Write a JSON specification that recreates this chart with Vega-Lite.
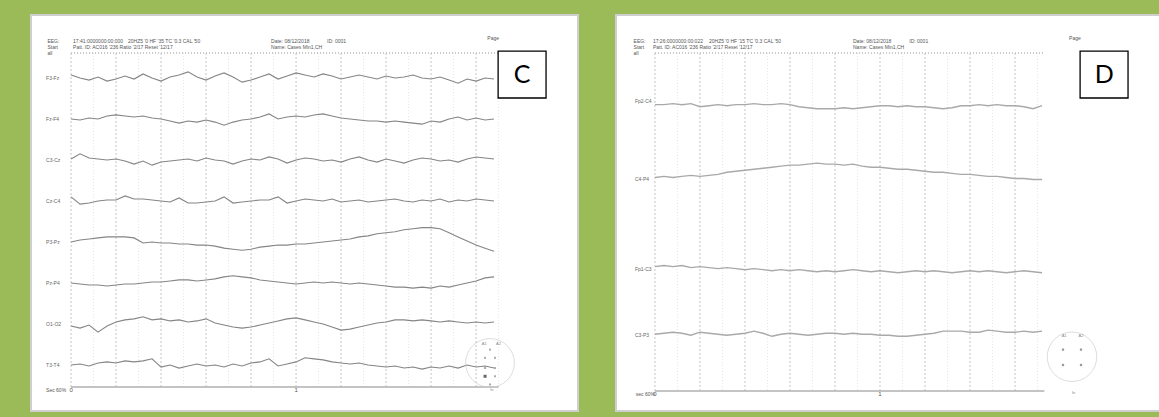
{
"$schema": "https://vega.github.io/schema/vega-lite/v6.json",
"background": "#9bbb59",
"padding": {"left": 30, "top": 14, "right": 2, "bottom": 7},
"spacing": 36,
"config": {"view": {"fill": "white", "stroke": "#cfcfcf", "strokeWidth": 2}, "axis": {"disable": true}, "text": {"font": "Liberation Sans"}},
"datasets": {
"one": [{}],
"C": [
{"c":"F3-Fz","t":0,"v":-37},{"c":"F3-Fz","t":0.04,"v":-40},{"c":"F3-Fz","t":0.08,"v":-42},{"c":"F3-Fz","t":0.12,"v":-39},{"c":"F3-Fz","t":0.16,"v":-43},{"c":"F3-Fz","t":0.2,"v":-41},{"c":"F3-Fz","t":0.24,"v":-38},{"c":"F3-Fz","t":0.28,"v":-41},{"c":"F3-Fz","t":0.32,"v":-36},{"c":"F3-Fz","t":0.36,"v":-40},{"c":"F3-Fz","t":0.4,"v":-43},{"c":"F3-Fz","t":0.44,"v":-39},{"c":"F3-Fz","t":0.48,"v":-37},{"c":"F3-Fz","t":0.52,"v":-34},{"c":"F3-Fz","t":0.56,"v":-39},{"c":"F3-Fz","t":0.6,"v":-42},{"c":"F3-Fz","t":0.64,"v":-38},{"c":"F3-Fz","t":0.68,"v":-35},{"c":"F3-Fz","t":0.72,"v":-39},{"c":"F3-Fz","t":0.76,"v":-44},{"c":"F3-Fz","t":0.8,"v":-42},{"c":"F3-Fz","t":0.84,"v":-39},{"c":"F3-Fz","t":0.88,"v":-36},{"c":"F3-Fz","t":0.92,"v":-41},{"c":"F3-Fz","t":0.96,"v":-38},{"c":"F3-Fz","t":1,"v":-35},{"c":"F3-Fz","t":1.04,"v":-37},{"c":"F3-Fz","t":1.08,"v":-39},{"c":"F3-Fz","t":1.12,"v":-36},{"c":"F3-Fz","t":1.16,"v":-38},{"c":"F3-Fz","t":1.2,"v":-41},{"c":"F3-Fz","t":1.24,"v":-39},{"c":"F3-Fz","t":1.28,"v":-37},{"c":"F3-Fz","t":1.32,"v":-39},{"c":"F3-Fz","t":1.36,"v":-41},{"c":"F3-Fz","t":1.4,"v":-38},{"c":"F3-Fz","t":1.44,"v":-40},{"c":"F3-Fz","t":1.48,"v":-39},{"c":"F3-Fz","t":1.52,"v":-37},{"c":"F3-Fz","t":1.56,"v":-40},{"c":"F3-Fz","t":1.6,"v":-41},{"c":"F3-Fz","t":1.64,"v":-39},{"c":"F3-Fz","t":1.68,"v":-42},{"c":"F3-Fz","t":1.72,"v":-45},{"c":"F3-Fz","t":1.76,"v":-41},{"c":"F3-Fz","t":1.8,"v":-43},{"c":"F3-Fz","t":1.84,"v":-40},{"c":"F3-Fz","t":1.88,"v":-41},
{"c":"Fz-F4","t":0,"v":-80},{"c":"Fz-F4","t":0.04,"v":-81},{"c":"Fz-F4","t":0.08,"v":-79},{"c":"Fz-F4","t":0.12,"v":-80},{"c":"Fz-F4","t":0.16,"v":-77},{"c":"Fz-F4","t":0.2,"v":-76},{"c":"Fz-F4","t":0.24,"v":-77},{"c":"Fz-F4","t":0.28,"v":-78},{"c":"Fz-F4","t":0.32,"v":-77},{"c":"Fz-F4","t":0.36,"v":-79},{"c":"Fz-F4","t":0.4,"v":-80},{"c":"Fz-F4","t":0.44,"v":-82},{"c":"Fz-F4","t":0.48,"v":-84},{"c":"Fz-F4","t":0.52,"v":-82},{"c":"Fz-F4","t":0.56,"v":-83},{"c":"Fz-F4","t":0.6,"v":-81},{"c":"Fz-F4","t":0.64,"v":-83},{"c":"Fz-F4","t":0.68,"v":-86},{"c":"Fz-F4","t":0.72,"v":-83},{"c":"Fz-F4","t":0.76,"v":-81},{"c":"Fz-F4","t":0.8,"v":-80},{"c":"Fz-F4","t":0.84,"v":-78},{"c":"Fz-F4","t":0.88,"v":-75},{"c":"Fz-F4","t":0.92,"v":-80},{"c":"Fz-F4","t":0.96,"v":-78},{"c":"Fz-F4","t":1,"v":-77},{"c":"Fz-F4","t":1.04,"v":-78},{"c":"Fz-F4","t":1.08,"v":-76},{"c":"Fz-F4","t":1.12,"v":-75},{"c":"Fz-F4","t":1.16,"v":-77},{"c":"Fz-F4","t":1.2,"v":-79},{"c":"Fz-F4","t":1.24,"v":-80},{"c":"Fz-F4","t":1.28,"v":-81},{"c":"Fz-F4","t":1.32,"v":-82},{"c":"Fz-F4","t":1.36,"v":-82},{"c":"Fz-F4","t":1.4,"v":-83},{"c":"Fz-F4","t":1.44,"v":-82},{"c":"Fz-F4","t":1.48,"v":-83},{"c":"Fz-F4","t":1.52,"v":-84},{"c":"Fz-F4","t":1.56,"v":-85},{"c":"Fz-F4","t":1.6,"v":-82},{"c":"Fz-F4","t":1.64,"v":-83},{"c":"Fz-F4","t":1.68,"v":-80},{"c":"Fz-F4","t":1.72,"v":-78},{"c":"Fz-F4","t":1.76,"v":-81},{"c":"Fz-F4","t":1.8,"v":-79},{"c":"Fz-F4","t":1.84,"v":-81},{"c":"Fz-F4","t":1.88,"v":-80},
{"c":"C3-Cz","t":0,"v":-119},{"c":"C3-Cz","t":0.04,"v":-114},{"c":"C3-Cz","t":0.08,"v":-118},{"c":"C3-Cz","t":0.12,"v":-119},{"c":"C3-Cz","t":0.16,"v":-120},{"c":"C3-Cz","t":0.2,"v":-119},{"c":"C3-Cz","t":0.24,"v":-121},{"c":"C3-Cz","t":0.28,"v":-124},{"c":"C3-Cz","t":0.32,"v":-121},{"c":"C3-Cz","t":0.36,"v":-125},{"c":"C3-Cz","t":0.4,"v":-122},{"c":"C3-Cz","t":0.44,"v":-121},{"c":"C3-Cz","t":0.48,"v":-120},{"c":"C3-Cz","t":0.52,"v":-119},{"c":"C3-Cz","t":0.56,"v":-121},{"c":"C3-Cz","t":0.6,"v":-118},{"c":"C3-Cz","t":0.64,"v":-120},{"c":"C3-Cz","t":0.68,"v":-121},{"c":"C3-Cz","t":0.72,"v":-124},{"c":"C3-Cz","t":0.76,"v":-121},{"c":"C3-Cz","t":0.8,"v":-119},{"c":"C3-Cz","t":0.84,"v":-120},{"c":"C3-Cz","t":0.88,"v":-117},{"c":"C3-Cz","t":0.92,"v":-119},{"c":"C3-Cz","t":0.96,"v":-123},{"c":"C3-Cz","t":1,"v":-120},{"c":"C3-Cz","t":1.04,"v":-118},{"c":"C3-Cz","t":1.08,"v":-119},{"c":"C3-Cz","t":1.12,"v":-121},{"c":"C3-Cz","t":1.16,"v":-120},{"c":"C3-Cz","t":1.2,"v":-122},{"c":"C3-Cz","t":1.24,"v":-119},{"c":"C3-Cz","t":1.28,"v":-117},{"c":"C3-Cz","t":1.32,"v":-120},{"c":"C3-Cz","t":1.36,"v":-122},{"c":"C3-Cz","t":1.4,"v":-119},{"c":"C3-Cz","t":1.44,"v":-121},{"c":"C3-Cz","t":1.48,"v":-123},{"c":"C3-Cz","t":1.52,"v":-120},{"c":"C3-Cz","t":1.56,"v":-118},{"c":"C3-Cz","t":1.6,"v":-119},{"c":"C3-Cz","t":1.64,"v":-121},{"c":"C3-Cz","t":1.68,"v":-120},{"c":"C3-Cz","t":1.72,"v":-122},{"c":"C3-Cz","t":1.76,"v":-119},{"c":"C3-Cz","t":1.8,"v":-117},{"c":"C3-Cz","t":1.84,"v":-118},{"c":"C3-Cz","t":1.88,"v":-119},
{"c":"Cz-C4","t":0,"v":-156},{"c":"Cz-C4","t":0.04,"v":-163},{"c":"Cz-C4","t":0.08,"v":-162},{"c":"Cz-C4","t":0.12,"v":-160},{"c":"Cz-C4","t":0.16,"v":-159},{"c":"Cz-C4","t":0.2,"v":-159},{"c":"Cz-C4","t":0.24,"v":-155},{"c":"Cz-C4","t":0.28,"v":-158},{"c":"Cz-C4","t":0.32,"v":-158},{"c":"Cz-C4","t":0.36,"v":-159},{"c":"Cz-C4","t":0.4,"v":-160},{"c":"Cz-C4","t":0.44,"v":-161},{"c":"Cz-C4","t":0.48,"v":-157},{"c":"Cz-C4","t":0.52,"v":-162},{"c":"Cz-C4","t":0.56,"v":-162},{"c":"Cz-C4","t":0.6,"v":-161},{"c":"Cz-C4","t":0.64,"v":-160},{"c":"Cz-C4","t":0.68,"v":-156},{"c":"Cz-C4","t":0.72,"v":-162},{"c":"Cz-C4","t":0.76,"v":-161},{"c":"Cz-C4","t":0.8,"v":-160},{"c":"Cz-C4","t":0.84,"v":-159},{"c":"Cz-C4","t":0.88,"v":-159},{"c":"Cz-C4","t":0.92,"v":-156},{"c":"Cz-C4","t":0.96,"v":-162},{"c":"Cz-C4","t":1,"v":-160},{"c":"Cz-C4","t":1.04,"v":-158},{"c":"Cz-C4","t":1.08,"v":-159},{"c":"Cz-C4","t":1.12,"v":-160},{"c":"Cz-C4","t":1.16,"v":-158},{"c":"Cz-C4","t":1.2,"v":-161},{"c":"Cz-C4","t":1.24,"v":-160},{"c":"Cz-C4","t":1.28,"v":-159},{"c":"Cz-C4","t":1.32,"v":-161},{"c":"Cz-C4","t":1.36,"v":-160},{"c":"Cz-C4","t":1.4,"v":-159},{"c":"Cz-C4","t":1.44,"v":-158},{"c":"Cz-C4","t":1.48,"v":-160},{"c":"Cz-C4","t":1.52,"v":-161},{"c":"Cz-C4","t":1.56,"v":-159},{"c":"Cz-C4","t":1.6,"v":-160},{"c":"Cz-C4","t":1.64,"v":-158},{"c":"Cz-C4","t":1.68,"v":-161},{"c":"Cz-C4","t":1.72,"v":-159},{"c":"Cz-C4","t":1.76,"v":-160},{"c":"Cz-C4","t":1.8,"v":-158},{"c":"Cz-C4","t":1.84,"v":-159},{"c":"Cz-C4","t":1.88,"v":-160},
{"c":"P3-Pz","t":0,"v":-200},{"c":"P3-Pz","t":0.04,"v":-198},{"c":"P3-Pz","t":0.08,"v":-197},{"c":"P3-Pz","t":0.12,"v":-196},{"c":"P3-Pz","t":0.16,"v":-195},{"c":"P3-Pz","t":0.2,"v":-195},{"c":"P3-Pz","t":0.24,"v":-195},{"c":"P3-Pz","t":0.28,"v":-196},{"c":"P3-Pz","t":0.32,"v":-201},{"c":"P3-Pz","t":0.36,"v":-200},{"c":"P3-Pz","t":0.4,"v":-201},{"c":"P3-Pz","t":0.44,"v":-201},{"c":"P3-Pz","t":0.48,"v":-202},{"c":"P3-Pz","t":0.52,"v":-202},{"c":"P3-Pz","t":0.56,"v":-203},{"c":"P3-Pz","t":0.6,"v":-203},{"c":"P3-Pz","t":0.64,"v":-204},{"c":"P3-Pz","t":0.68,"v":-206},{"c":"P3-Pz","t":0.72,"v":-207},{"c":"P3-Pz","t":0.76,"v":-208},{"c":"P3-Pz","t":0.8,"v":-207},{"c":"P3-Pz","t":0.84,"v":-205},{"c":"P3-Pz","t":0.88,"v":-204},{"c":"P3-Pz","t":0.92,"v":-203},{"c":"P3-Pz","t":0.96,"v":-203},{"c":"P3-Pz","t":1,"v":-202},{"c":"P3-Pz","t":1.04,"v":-202},{"c":"P3-Pz","t":1.08,"v":-201},{"c":"P3-Pz","t":1.12,"v":-200},{"c":"P3-Pz","t":1.16,"v":-199},{"c":"P3-Pz","t":1.2,"v":-198},{"c":"P3-Pz","t":1.24,"v":-197},{"c":"P3-Pz","t":1.28,"v":-195},{"c":"P3-Pz","t":1.32,"v":-194},{"c":"P3-Pz","t":1.36,"v":-192},{"c":"P3-Pz","t":1.4,"v":-191},{"c":"P3-Pz","t":1.44,"v":-190},{"c":"P3-Pz","t":1.48,"v":-188},{"c":"P3-Pz","t":1.52,"v":-187},{"c":"P3-Pz","t":1.56,"v":-186},{"c":"P3-Pz","t":1.6,"v":-186},{"c":"P3-Pz","t":1.64,"v":-187},{"c":"P3-Pz","t":1.68,"v":-191},{"c":"P3-Pz","t":1.72,"v":-195},{"c":"P3-Pz","t":1.76,"v":-199},{"c":"P3-Pz","t":1.8,"v":-203},{"c":"P3-Pz","t":1.84,"v":-206},{"c":"P3-Pz","t":1.88,"v":-209},
{"c":"Pz-P4","t":0,"v":-240},{"c":"Pz-P4","t":0.04,"v":-241},{"c":"Pz-P4","t":0.08,"v":-242},{"c":"Pz-P4","t":0.12,"v":-242},{"c":"Pz-P4","t":0.16,"v":-243},{"c":"Pz-P4","t":0.2,"v":-242},{"c":"Pz-P4","t":0.24,"v":-241},{"c":"Pz-P4","t":0.28,"v":-241},{"c":"Pz-P4","t":0.32,"v":-240},{"c":"Pz-P4","t":0.36,"v":-239},{"c":"Pz-P4","t":0.4,"v":-239},{"c":"Pz-P4","t":0.44,"v":-238},{"c":"Pz-P4","t":0.48,"v":-237},{"c":"Pz-P4","t":0.52,"v":-237},{"c":"Pz-P4","t":0.56,"v":-238},{"c":"Pz-P4","t":0.6,"v":-237},{"c":"Pz-P4","t":0.64,"v":-236},{"c":"Pz-P4","t":0.68,"v":-234},{"c":"Pz-P4","t":0.72,"v":-233},{"c":"Pz-P4","t":0.76,"v":-234},{"c":"Pz-P4","t":0.8,"v":-235},{"c":"Pz-P4","t":0.84,"v":-237},{"c":"Pz-P4","t":0.88,"v":-238},{"c":"Pz-P4","t":0.92,"v":-239},{"c":"Pz-P4","t":0.96,"v":-240},{"c":"Pz-P4","t":1,"v":-241},{"c":"Pz-P4","t":1.04,"v":-240},{"c":"Pz-P4","t":1.08,"v":-239},{"c":"Pz-P4","t":1.12,"v":-240},{"c":"Pz-P4","t":1.16,"v":-239},{"c":"Pz-P4","t":1.2,"v":-240},{"c":"Pz-P4","t":1.24,"v":-241},{"c":"Pz-P4","t":1.28,"v":-240},{"c":"Pz-P4","t":1.32,"v":-241},{"c":"Pz-P4","t":1.36,"v":-242},{"c":"Pz-P4","t":1.4,"v":-243},{"c":"Pz-P4","t":1.44,"v":-244},{"c":"Pz-P4","t":1.48,"v":-244},{"c":"Pz-P4","t":1.52,"v":-245},{"c":"Pz-P4","t":1.56,"v":-244},{"c":"Pz-P4","t":1.6,"v":-245},{"c":"Pz-P4","t":1.64,"v":-243},{"c":"Pz-P4","t":1.68,"v":-244},{"c":"Pz-P4","t":1.72,"v":-242},{"c":"Pz-P4","t":1.76,"v":-240},{"c":"Pz-P4","t":1.8,"v":-238},{"c":"Pz-P4","t":1.84,"v":-235},{"c":"Pz-P4","t":1.88,"v":-234},
{"c":"O1-O2","t":0,"v":-282},{"c":"O1-O2","t":0.04,"v":-284},{"c":"O1-O2","t":0.08,"v":-281},{"c":"O1-O2","t":0.12,"v":-288},{"c":"O1-O2","t":0.16,"v":-282},{"c":"O1-O2","t":0.2,"v":-278},{"c":"O1-O2","t":0.24,"v":-276},{"c":"O1-O2","t":0.28,"v":-275},{"c":"O1-O2","t":0.32,"v":-273},{"c":"O1-O2","t":0.36,"v":-276},{"c":"O1-O2","t":0.4,"v":-275},{"c":"O1-O2","t":0.44,"v":-277},{"c":"O1-O2","t":0.48,"v":-276},{"c":"O1-O2","t":0.52,"v":-278},{"c":"O1-O2","t":0.56,"v":-277},{"c":"O1-O2","t":0.6,"v":-275},{"c":"O1-O2","t":0.64,"v":-279},{"c":"O1-O2","t":0.68,"v":-281},{"c":"O1-O2","t":0.72,"v":-283},{"c":"O1-O2","t":0.76,"v":-284},{"c":"O1-O2","t":0.8,"v":-283},{"c":"O1-O2","t":0.84,"v":-281},{"c":"O1-O2","t":0.88,"v":-279},{"c":"O1-O2","t":0.92,"v":-277},{"c":"O1-O2","t":0.96,"v":-275},{"c":"O1-O2","t":1,"v":-274},{"c":"O1-O2","t":1.04,"v":-276},{"c":"O1-O2","t":1.08,"v":-278},{"c":"O1-O2","t":1.12,"v":-280},{"c":"O1-O2","t":1.16,"v":-283},{"c":"O1-O2","t":1.2,"v":-286},{"c":"O1-O2","t":1.24,"v":-285},{"c":"O1-O2","t":1.28,"v":-283},{"c":"O1-O2","t":1.32,"v":-281},{"c":"O1-O2","t":1.36,"v":-279},{"c":"O1-O2","t":1.4,"v":-278},{"c":"O1-O2","t":1.44,"v":-276},{"c":"O1-O2","t":1.48,"v":-276},{"c":"O1-O2","t":1.52,"v":-277},{"c":"O1-O2","t":1.56,"v":-276},{"c":"O1-O2","t":1.6,"v":-277},{"c":"O1-O2","t":1.64,"v":-278},{"c":"O1-O2","t":1.68,"v":-277},{"c":"O1-O2","t":1.72,"v":-278},{"c":"O1-O2","t":1.76,"v":-279},{"c":"O1-O2","t":1.8,"v":-278},{"c":"O1-O2","t":1.84,"v":-279},{"c":"O1-O2","t":1.88,"v":-278},
{"c":"T3-T4","t":0,"v":-320},{"c":"T3-T4","t":0.04,"v":-319},{"c":"T3-T4","t":0.08,"v":-321},{"c":"T3-T4","t":0.12,"v":-318},{"c":"T3-T4","t":0.16,"v":-317},{"c":"T3-T4","t":0.2,"v":-318},{"c":"T3-T4","t":0.24,"v":-316},{"c":"T3-T4","t":0.28,"v":-317},{"c":"T3-T4","t":0.32,"v":-316},{"c":"T3-T4","t":0.36,"v":-314},{"c":"T3-T4","t":0.4,"v":-322},{"c":"T3-T4","t":0.44,"v":-320},{"c":"T3-T4","t":0.48,"v":-323},{"c":"T3-T4","t":0.52,"v":-321},{"c":"T3-T4","t":0.56,"v":-319},{"c":"T3-T4","t":0.6,"v":-321},{"c":"T3-T4","t":0.64,"v":-320},{"c":"T3-T4","t":0.68,"v":-322},{"c":"T3-T4","t":0.72,"v":-319},{"c":"T3-T4","t":0.76,"v":-321},{"c":"T3-T4","t":0.8,"v":-318},{"c":"T3-T4","t":0.84,"v":-317},{"c":"T3-T4","t":0.88,"v":-314},{"c":"T3-T4","t":0.92,"v":-321},{"c":"T3-T4","t":0.96,"v":-319},{"c":"T3-T4","t":1,"v":-317},{"c":"T3-T4","t":1.04,"v":-313},{"c":"T3-T4","t":1.08,"v":-314},{"c":"T3-T4","t":1.12,"v":-315},{"c":"T3-T4","t":1.16,"v":-317},{"c":"T3-T4","t":1.2,"v":-318},{"c":"T3-T4","t":1.24,"v":-319},{"c":"T3-T4","t":1.28,"v":-318},{"c":"T3-T4","t":1.32,"v":-320},{"c":"T3-T4","t":1.36,"v":-321},{"c":"T3-T4","t":1.4,"v":-322},{"c":"T3-T4","t":1.44,"v":-321},{"c":"T3-T4","t":1.48,"v":-323},{"c":"T3-T4","t":1.52,"v":-322},{"c":"T3-T4","t":1.56,"v":-324},{"c":"T3-T4","t":1.6,"v":-322},{"c":"T3-T4","t":1.64,"v":-323},{"c":"T3-T4","t":1.68,"v":-321},{"c":"T3-T4","t":1.72,"v":-323},{"c":"T3-T4","t":1.76,"v":-320},{"c":"T3-T4","t":1.8,"v":-322},{"c":"T3-T4","t":1.84,"v":-321},{"c":"T3-T4","t":1.88,"v":-323}
],
"D": [
{"c":"Fp2-C4","t":0,"v":-66},{"c":"Fp2-C4","t":0.04,"v":-66},{"c":"Fp2-C4","t":0.08,"v":-65},{"c":"Fp2-C4","t":0.12,"v":-66},{"c":"Fp2-C4","t":0.16,"v":-65},{"c":"Fp2-C4","t":0.2,"v":-68},{"c":"Fp2-C4","t":0.24,"v":-67},{"c":"Fp2-C4","t":0.28,"v":-66},{"c":"Fp2-C4","t":0.32,"v":-67},{"c":"Fp2-C4","t":0.36,"v":-66},{"c":"Fp2-C4","t":0.4,"v":-66},{"c":"Fp2-C4","t":0.44,"v":-65},{"c":"Fp2-C4","t":0.48,"v":-66},{"c":"Fp2-C4","t":0.52,"v":-66},{"c":"Fp2-C4","t":0.56,"v":-65},{"c":"Fp2-C4","t":0.6,"v":-66},{"c":"Fp2-C4","t":0.64,"v":-68},{"c":"Fp2-C4","t":0.68,"v":-69},{"c":"Fp2-C4","t":0.72,"v":-70},{"c":"Fp2-C4","t":0.76,"v":-70},{"c":"Fp2-C4","t":0.8,"v":-70},{"c":"Fp2-C4","t":0.84,"v":-69},{"c":"Fp2-C4","t":0.88,"v":-70},{"c":"Fp2-C4","t":0.92,"v":-69},{"c":"Fp2-C4","t":0.96,"v":-68},{"c":"Fp2-C4","t":1,"v":-67},{"c":"Fp2-C4","t":1.04,"v":-67},{"c":"Fp2-C4","t":1.08,"v":-68},{"c":"Fp2-C4","t":1.12,"v":-67},{"c":"Fp2-C4","t":1.16,"v":-68},{"c":"Fp2-C4","t":1.2,"v":-68},{"c":"Fp2-C4","t":1.24,"v":-69},{"c":"Fp2-C4","t":1.28,"v":-70},{"c":"Fp2-C4","t":1.32,"v":-69},{"c":"Fp2-C4","t":1.36,"v":-67},{"c":"Fp2-C4","t":1.4,"v":-67},{"c":"Fp2-C4","t":1.44,"v":-66},{"c":"Fp2-C4","t":1.48,"v":-67},{"c":"Fp2-C4","t":1.52,"v":-66},{"c":"Fp2-C4","t":1.56,"v":-67},{"c":"Fp2-C4","t":1.6,"v":-67},{"c":"Fp2-C4","t":1.64,"v":-68},{"c":"Fp2-C4","t":1.68,"v":-70},{"c":"Fp2-C4","t":1.72,"v":-67},
{"c":"C4-P4","t":0,"v":-137},{"c":"C4-P4","t":0.04,"v":-136},{"c":"C4-P4","t":0.08,"v":-137},{"c":"C4-P4","t":0.12,"v":-136},{"c":"C4-P4","t":0.16,"v":-135},{"c":"C4-P4","t":0.2,"v":-136},{"c":"C4-P4","t":0.24,"v":-135},{"c":"C4-P4","t":0.28,"v":-134},{"c":"C4-P4","t":0.32,"v":-132},{"c":"C4-P4","t":0.36,"v":-131},{"c":"C4-P4","t":0.4,"v":-130},{"c":"C4-P4","t":0.44,"v":-129},{"c":"C4-P4","t":0.48,"v":-128},{"c":"C4-P4","t":0.52,"v":-127},{"c":"C4-P4","t":0.56,"v":-126},{"c":"C4-P4","t":0.6,"v":-125},{"c":"C4-P4","t":0.64,"v":-125},{"c":"C4-P4","t":0.68,"v":-124},{"c":"C4-P4","t":0.72,"v":-123},{"c":"C4-P4","t":0.76,"v":-124},{"c":"C4-P4","t":0.8,"v":-124},{"c":"C4-P4","t":0.84,"v":-125},{"c":"C4-P4","t":0.88,"v":-124},{"c":"C4-P4","t":0.92,"v":-126},{"c":"C4-P4","t":0.96,"v":-127},{"c":"C4-P4","t":1,"v":-127},{"c":"C4-P4","t":1.04,"v":-128},{"c":"C4-P4","t":1.08,"v":-129},{"c":"C4-P4","t":1.12,"v":-129},{"c":"C4-P4","t":1.16,"v":-130},{"c":"C4-P4","t":1.2,"v":-131},{"c":"C4-P4","t":1.24,"v":-132},{"c":"C4-P4","t":1.28,"v":-132},{"c":"C4-P4","t":1.32,"v":-133},{"c":"C4-P4","t":1.36,"v":-134},{"c":"C4-P4","t":1.4,"v":-134},{"c":"C4-P4","t":1.44,"v":-135},{"c":"C4-P4","t":1.48,"v":-136},{"c":"C4-P4","t":1.52,"v":-136},{"c":"C4-P4","t":1.56,"v":-137},{"c":"C4-P4","t":1.6,"v":-138},{"c":"C4-P4","t":1.64,"v":-138},{"c":"C4-P4","t":1.68,"v":-139},{"c":"C4-P4","t":1.72,"v":-139},
{"c":"Fp1-C3","t":0,"v":-224},{"c":"Fp1-C3","t":0.04,"v":-223},{"c":"Fp1-C3","t":0.08,"v":-224},{"c":"Fp1-C3","t":0.12,"v":-223},{"c":"Fp1-C3","t":0.16,"v":-225},{"c":"Fp1-C3","t":0.2,"v":-224},{"c":"Fp1-C3","t":0.24,"v":-225},{"c":"Fp1-C3","t":0.28,"v":-226},{"c":"Fp1-C3","t":0.32,"v":-225},{"c":"Fp1-C3","t":0.36,"v":-226},{"c":"Fp1-C3","t":0.4,"v":-227},{"c":"Fp1-C3","t":0.44,"v":-226},{"c":"Fp1-C3","t":0.48,"v":-227},{"c":"Fp1-C3","t":0.52,"v":-228},{"c":"Fp1-C3","t":0.56,"v":-227},{"c":"Fp1-C3","t":0.6,"v":-228},{"c":"Fp1-C3","t":0.64,"v":-227},{"c":"Fp1-C3","t":0.68,"v":-228},{"c":"Fp1-C3","t":0.72,"v":-229},{"c":"Fp1-C3","t":0.76,"v":-228},{"c":"Fp1-C3","t":0.8,"v":-229},{"c":"Fp1-C3","t":0.84,"v":-228},{"c":"Fp1-C3","t":0.88,"v":-227},{"c":"Fp1-C3","t":0.92,"v":-228},{"c":"Fp1-C3","t":0.96,"v":-229},{"c":"Fp1-C3","t":1,"v":-228},{"c":"Fp1-C3","t":1.04,"v":-229},{"c":"Fp1-C3","t":1.08,"v":-230},{"c":"Fp1-C3","t":1.12,"v":-229},{"c":"Fp1-C3","t":1.16,"v":-228},{"c":"Fp1-C3","t":1.2,"v":-229},{"c":"Fp1-C3","t":1.24,"v":-228},{"c":"Fp1-C3","t":1.28,"v":-229},{"c":"Fp1-C3","t":1.32,"v":-230},{"c":"Fp1-C3","t":1.36,"v":-229},{"c":"Fp1-C3","t":1.4,"v":-228},{"c":"Fp1-C3","t":1.44,"v":-229},{"c":"Fp1-C3","t":1.48,"v":-228},{"c":"Fp1-C3","t":1.52,"v":-229},{"c":"Fp1-C3","t":1.56,"v":-230},{"c":"Fp1-C3","t":1.6,"v":-229},{"c":"Fp1-C3","t":1.64,"v":-228},{"c":"Fp1-C3","t":1.68,"v":-229},{"c":"Fp1-C3","t":1.72,"v":-230},
{"c":"C3-P3","t":0,"v":-290},{"c":"C3-P3","t":0.04,"v":-289},{"c":"C3-P3","t":0.08,"v":-288},{"c":"C3-P3","t":0.12,"v":-289},{"c":"C3-P3","t":0.16,"v":-291},{"c":"C3-P3","t":0.2,"v":-288},{"c":"C3-P3","t":0.24,"v":-289},{"c":"C3-P3","t":0.28,"v":-290},{"c":"C3-P3","t":0.32,"v":-291},{"c":"C3-P3","t":0.36,"v":-290},{"c":"C3-P3","t":0.4,"v":-289},{"c":"C3-P3","t":0.44,"v":-287},{"c":"C3-P3","t":0.48,"v":-289},{"c":"C3-P3","t":0.52,"v":-292},{"c":"C3-P3","t":0.56,"v":-290},{"c":"C3-P3","t":0.6,"v":-289},{"c":"C3-P3","t":0.64,"v":-290},{"c":"C3-P3","t":0.68,"v":-291},{"c":"C3-P3","t":0.72,"v":-290},{"c":"C3-P3","t":0.76,"v":-289},{"c":"C3-P3","t":0.8,"v":-289},{"c":"C3-P3","t":0.84,"v":-290},{"c":"C3-P3","t":0.88,"v":-289},{"c":"C3-P3","t":0.92,"v":-290},{"c":"C3-P3","t":0.96,"v":-290},{"c":"C3-P3","t":1,"v":-291},{"c":"C3-P3","t":1.04,"v":-291},{"c":"C3-P3","t":1.08,"v":-292},{"c":"C3-P3","t":1.12,"v":-292},{"c":"C3-P3","t":1.16,"v":-291},{"c":"C3-P3","t":1.2,"v":-290},{"c":"C3-P3","t":1.24,"v":-289},{"c":"C3-P3","t":1.28,"v":-287},{"c":"C3-P3","t":1.32,"v":-287},{"c":"C3-P3","t":1.36,"v":-287},{"c":"C3-P3","t":1.4,"v":-288},{"c":"C3-P3","t":1.44,"v":-288},{"c":"C3-P3","t":1.48,"v":-286},{"c":"C3-P3","t":1.52,"v":-287},{"c":"C3-P3","t":1.56,"v":-288},{"c":"C3-P3","t":1.6,"v":-288},{"c":"C3-P3","t":1.64,"v":-287},{"c":"C3-P3","t":1.68,"v":-288},{"c":"C3-P3","t":1.72,"v":-287}
]
},
"hconcat": [
{
"width": 547, "height": 396,
"layer": [
{"data": {"values": [{"g":0.1},{"g":0.3},{"g":0.5},{"g":0.7},{"g":0.9},{"g":1.1},{"g":1.3},{"g":1.5},{"g":1.7},{"g":1.9}]},
 "mark": {"type": "rule", "color": "#e6e6e6", "strokeDash": [1, 2], "strokeWidth": 1},
 "encoding": {"x": {"field": "g", "type": "quantitative", "scale": {"domain": [-0.178, 2.253], "nice": false, "zero": false}},
  "y": {"datum": -15.6, "scale": {"domain": [-364.9, 21.5], "nice": false, "zero": false}}, "y2": {"datum": -341.5}}},
{"data": {"values": [{"g":0},{"g":0.2},{"g":0.4},{"g":0.6},{"g":0.8},{"g":1},{"g":1.2},{"g":1.4},{"g":1.6},{"g":1.8}]},
 "mark": {"type": "rule", "color": "#c4c4c4", "strokeDash": [2, 2], "strokeWidth": 1},
 "encoding": {"x": {"field": "g", "type": "quantitative", "scale": {"domain": [-0.178, 2.253], "nice": false, "zero": false}},
  "y": {"datum": -15.6, "scale": {"domain": [-364.9, 21.5], "nice": false, "zero": false}}, "y2": {"datum": -341.5}}},
{"data": {"name": "one"},
 "mark": {"type": "rule", "color": "#c8c8c8", "strokeDash": [1, 2], "strokeWidth": 2},
 "encoding": {"x": {"datum": 0, "scale": {"domain": [-0.178, 2.253], "nice": false, "zero": false}}, "x2": {"datum": 1.9},
  "y": {"datum": -15.6, "scale": {"domain": [-364.9, 21.5], "nice": false, "zero": false}}}},
{"data": {"name": "one"},
 "mark": {"type": "rule", "color": "#b0b0b0", "strokeWidth": 1.5},
 "encoding": {"x": {"datum": 0, "scale": {"domain": [-0.178, 2.253], "nice": false, "zero": false}}, "x2": {"datum": 1.9},
  "y": {"datum": -341.5, "scale": {"domain": [-364.9, 21.5], "nice": false, "zero": false}}}},
{"data": {"name": "C"},
 "mark": {"type": "line", "color": "#858585", "strokeWidth": 1.1},
 "encoding": {"x": {"field": "t", "type": "quantitative", "scale": {"domain": [-0.178, 2.253], "nice": false, "zero": false}},
  "y": {"field": "v", "type": "quantitative", "scale": {"domain": [-364.9, 21.5], "nice": false, "zero": false}},
  "detail": {"field": "c", "type": "nominal"}}},
{"data": {"values": [{"c":"F3-Fz","v":-40},{"c":"Fz-F4","v":-80},{"c":"C3-Cz","v":-120},{"c":"Cz-C4","v":-160},{"c":"P3-Pz","v":-200},{"c":"Pz-P4","v":-240},{"c":"O1-O2","v":-280},{"c":"T3-T4","v":-320}]},
 "mark": {"type": "text", "align": "left", "baseline": "middle", "fontSize": 5, "color": "#666"},
 "encoding": {"x": {"datum": -0.111, "scale": {"domain": [-0.178, 2.253], "nice": false, "zero": false}},
  "y": {"field": "v", "type": "quantitative", "scale": {"domain": [-364.9, 21.5], "nice": false, "zero": false}},
  "text": {"field": "c"}}},
{"data": {"values": [{"t":0,"lab":"0"},{"t":1,"lab":"1"}]},
 "mark": {"type": "text", "align": "center", "baseline": "middle", "fontSize": 6, "color": "#555"},
 "encoding": {"x": {"field": "t", "type": "quantitative", "scale": {"domain": [-0.178, 2.253], "nice": false, "zero": false}},
  "y": {"datum": -344.5, "scale": {"domain": [-364.9, 21.5], "nice": false, "zero": false}}, "text": {"field": "lab"}}},
{"data": {"name": "one"},
 "mark": {"type": "text", "align": "left", "baseline": "middle", "fontSize": 5, "color": "#555"},
 "encoding": {"x": {"datum": -0.111}, "y": {"datum": -344.5}, "text": {"value": "Sec 60%"}}},
{"data": {"name": "one"},
 "mark": {"type": "text", "align": "left", "baseline": "middle", "fontSize": 5, "color": "#555", "lineHeight": 6},
 "encoding": {"x": {"datum": -0.105}, "y": {"datum": -3.9}, "text": {"value": ["EEG:", "Start", "  all"]}}},
{"data": {"name": "one"},
 "mark": {"type": "text", "align": "left", "baseline": "middle", "fontSize": 5, "color": "#555", "lineHeight": 6},
 "encoding": {"x": {"datum": 0.009}, "y": {"datum": -3.9}, "text": {"value": ["17:41:0000000:00:000", "Patt. ID: AC016 '236 Ratio '2/17 Reset '12/17"]}}},
{"data": {"name": "one"},
 "mark": {"type": "text", "align": "left", "baseline": "middle", "fontSize": 5, "color": "#555"},
 "encoding": {"x": {"datum": 0.253}, "y": {"datum": -3.9}, "text": {"value": "20HZ5 '0 HF '35 TC '0.3 CAL '50"}}},
{"data": {"name": "one"},
 "mark": {"type": "text", "align": "left", "baseline": "middle", "fontSize": 5, "color": "#555", "lineHeight": 6},
 "encoding": {"x": {"datum": 0.889}, "y": {"datum": -3.9}, "text": {"value": ["Date:  08/12/2018", "Name:  Cases Min1,CH"]}}},
{"data": {"name": "one"},
 "mark": {"type": "text", "align": "left", "baseline": "middle", "fontSize": 5, "color": "#555"},
 "encoding": {"x": {"datum": 1.138}, "y": {"datum": -3.9}, "text": {"value": "ID:  0001"}}},
{"data": {"name": "one"},
 "mark": {"type": "text", "align": "left", "baseline": "middle", "fontSize": 5, "color": "#555"},
 "encoding": {"x": {"datum": 1.85}, "y": {"datum": -1}, "text": {"value": "Page"}}},
{"data": {"name": "one"},
 "mark": {"type": "point", "shape": "circle", "size": 2376, "filled": false, "color": "#d0d0d0", "strokeWidth": 1},
 "encoding": {"x": {"datum": 1.862}, "y": {"datum": -318}}},
{"data": {"values": [{"t":1.862,"v":-305},{"t":1.84,"v":-313},{"t":1.884,"v":-313},{"t":1.84,"v":-323},{"t":1.884,"v":-323},{"t":1.884,"v":-331},{"t":1.862,"v":-339}]},
 "mark": {"type": "square", "size": 4, "color": "#aaa", "opacity": 1},
 "encoding": {"x": {"field": "t", "type": "quantitative", "scale": {"domain": [-0.178, 2.253], "nice": false, "zero": false}},
  "y": {"field": "v", "type": "quantitative", "scale": {"domain": [-364.9, 21.5], "nice": false, "zero": false}}}},
{"data": {"name": "one"},
 "mark": {"type": "square", "size": 9, "color": "#666", "opacity": 1},
 "encoding": {"x": {"datum": 1.84}, "y": {"datum": -331}}},
{"data": {"values": [{"t":1.836,"s":"A1"},{"t":1.9,"s":"A2"}]},
 "mark": {"type": "text", "align": "center", "baseline": "middle", "fontSize": 4, "color": "#888"},
 "encoding": {"x": {"field": "t", "type": "quantitative", "scale": {"domain": [-0.178, 2.253], "nice": false, "zero": false}},
  "y": {"datum": -299.6}, "text": {"field": "s"}}},
{"data": {"name": "one"},
 "mark": {"type": "text", "align": "center", "baseline": "middle", "fontSize": 4, "color": "#888"},
 "encoding": {"x": {"datum": 1.87}, "y": {"datum": -344.5}, "text": {"value": "In"}}},
{"data": {"name": "one"},
 "mark": {"type": "rect", "fill": "white", "stroke": "black", "strokeWidth": 1.3},
 "encoding": {"x": {"datum": 1.898}, "x2": {"datum": 2.111}, "y": {"datum": -13.7}, "y2": {"datum": -59.5}}},
{"data": {"name": "one"},
 "mark": {"type": "text", "align": "center", "baseline": "middle", "fontSize": 25, "font": "Lato", "color": "black"},
 "encoding": {"x": {"datum": 2.004}, "y": {"datum": -36.6}, "text": {"value": "C"}}}
]
},
{
"width": 544, "height": 396,
"layer": [
{"data": {"values": [{"g":0.1},{"g":0.3},{"g":0.5},{"g":0.7},{"g":0.9},{"g":1.1},{"g":1.3},{"g":1.5},{"g":1.7}]},
 "mark": {"type": "rule", "color": "#e6e6e6", "strokeDash": [1, 2], "strokeWidth": 1},
 "encoding": {"x": {"field": "g", "type": "quantitative", "scale": {"domain": [-0.173, 2.244], "nice": false, "zero": false}},
  "y": {"datum": -15.6, "scale": {"domain": [-364.9, 21.5], "nice": false, "zero": false}}, "y2": {"datum": -345.4}}},
{"data": {"values": [{"g":0},{"g":0.2},{"g":0.4},{"g":0.6},{"g":0.8},{"g":1},{"g":1.2},{"g":1.4},{"g":1.6}]},
 "mark": {"type": "rule", "color": "#c4c4c4", "strokeDash": [2, 2], "strokeWidth": 1},
 "encoding": {"x": {"field": "g", "type": "quantitative", "scale": {"domain": [-0.173, 2.244], "nice": false, "zero": false}},
  "y": {"datum": -15.6, "scale": {"domain": [-364.9, 21.5], "nice": false, "zero": false}}, "y2": {"datum": -345.4}}},
{"data": {"name": "one"},
 "mark": {"type": "rule", "color": "#c8c8c8", "strokeDash": [1, 2], "strokeWidth": 2},
 "encoding": {"x": {"datum": 0, "scale": {"domain": [-0.173, 2.244], "nice": false, "zero": false}}, "x2": {"datum": 1.73},
  "y": {"datum": -15.6, "scale": {"domain": [-364.9, 21.5], "nice": false, "zero": false}}}},
{"data": {"name": "one"},
 "mark": {"type": "rule", "color": "#b0b0b0", "strokeWidth": 1.5},
 "encoding": {"x": {"datum": 0, "scale": {"domain": [-0.173, 2.244], "nice": false, "zero": false}}, "x2": {"datum": 1.73},
  "y": {"datum": -345.4, "scale": {"domain": [-364.9, 21.5], "nice": false, "zero": false}}}},
{"data": {"name": "D"},
 "mark": {"type": "line", "color": "#a9a9a9", "strokeWidth": 1.4},
 "encoding": {"x": {"field": "t", "type": "quantitative", "scale": {"domain": [-0.173, 2.244], "nice": false, "zero": false}},
  "y": {"field": "v", "type": "quantitative", "scale": {"domain": [-364.9, 21.5], "nice": false, "zero": false}},
  "detail": {"field": "c", "type": "nominal"}}},
{"data": {"values": [{"c":"Fp2-C4","v":-62},{"c":"C4-P4","v":-139},{"c":"Fp1-C3","v":-226},{"c":"C3-P3","v":-291}]},
 "mark": {"type": "text", "align": "left", "baseline": "middle", "fontSize": 5, "color": "#666"},
 "encoding": {"x": {"datum": -0.089, "scale": {"domain": [-0.173, 2.244], "nice": false, "zero": false}},
  "y": {"field": "v", "type": "quantitative", "scale": {"domain": [-364.9, 21.5], "nice": false, "zero": false}},
  "text": {"field": "c"}}},
{"data": {"values": [{"t":0,"lab":"0"},{"t":1,"lab":"1"}]},
 "mark": {"type": "text", "align": "center", "baseline": "middle", "fontSize": 6, "color": "#555"},
 "encoding": {"x": {"field": "t", "type": "quantitative", "scale": {"domain": [-0.173, 2.244], "nice": false, "zero": false}},
  "y": {"datum": -348, "scale": {"domain": [-364.9, 21.5], "nice": false, "zero": false}}, "text": {"field": "lab"}}},
{"data": {"name": "one"},
 "mark": {"type": "text", "align": "left", "baseline": "middle", "fontSize": 5, "color": "#555"},
 "encoding": {"x": {"datum": -0.085}, "y": {"datum": -348}, "text": {"value": "sec 60%"}}},
{"data": {"name": "one"},
 "mark": {"type": "text", "align": "left", "baseline": "middle", "fontSize": 5, "color": "#555", "lineHeight": 6},
 "encoding": {"x": {"datum": -0.095}, "y": {"datum": -3.9}, "text": {"value": ["EEG:", "Start", "  all"]}}},
{"data": {"name": "one"},
 "mark": {"type": "text", "align": "left", "baseline": "middle", "fontSize": 5, "color": "#555", "lineHeight": 6},
 "encoding": {"x": {"datum": -0.009}, "y": {"datum": -3.9}, "text": {"value": ["17:26:0000000:00:022", "Patt. ID: AC016 '236 Ratio '2/17 Reset '12/17"]}}},
{"data": {"name": "one"},
 "mark": {"type": "text", "align": "left", "baseline": "middle", "fontSize": 5, "color": "#555"},
 "encoding": {"x": {"datum": 0.24}, "y": {"datum": -3.9}, "text": {"value": "20HZ5 '0 HF '15 TC '0.3 CAL '50"}}},
{"data": {"name": "one"},
 "mark": {"type": "text", "align": "left", "baseline": "middle", "fontSize": 5, "color": "#555", "lineHeight": 6},
 "encoding": {"x": {"datum": 0.88}, "y": {"datum": -3.9}, "text": {"value": ["Date:  08/12/2018", "Name:  Cases Min1,CH"]}}},
{"data": {"name": "one"},
 "mark": {"type": "text", "align": "left", "baseline": "middle", "fontSize": 5, "color": "#555"},
 "encoding": {"x": {"datum": 1.13}, "y": {"datum": -3.9}, "text": {"value": "ID:  0001"}}},
{"data": {"name": "one"},
 "mark": {"type": "text", "align": "left", "baseline": "middle", "fontSize": 5, "color": "#555"},
 "encoding": {"x": {"datum": 1.84}, "y": {"datum": -1}, "text": {"value": "Page"}}},
{"data": {"name": "one"},
 "mark": {"type": "point", "shape": "circle", "size": 2450, "filled": false, "color": "#d0d0d0", "strokeWidth": 1},
 "encoding": {"x": {"datum": 1.853}, "y": {"datum": -312}}},
{"data": {"values": [{"t":1.813,"v":-305},{"t":1.893,"v":-305},{"t":1.813,"v":-320},{"t":1.893,"v":-320}]},
 "mark": {"type": "square", "size": 5, "color": "#999", "opacity": 1},
 "encoding": {"x": {"field": "t", "type": "quantitative", "scale": {"domain": [-0.173, 2.244], "nice": false, "zero": false}},
  "y": {"field": "v", "type": "quantitative", "scale": {"domain": [-364.9, 21.5], "nice": false, "zero": false}}}},
{"data": {"values": [{"t":1.818,"s":"A1"},{"t":1.893,"s":"A2"}]},
 "mark": {"type": "text", "align": "center", "baseline": "middle", "fontSize": 4, "color": "#888"},
 "encoding": {"x": {"field": "t", "type": "quantitative", "scale": {"domain": [-0.173, 2.244], "nice": false, "zero": false}},
  "y": {"datum": -292}, "text": {"field": "s"}}},
{"data": {"name": "one"},
 "mark": {"type": "text", "align": "center", "baseline": "middle", "fontSize": 4, "color": "#888"},
 "encoding": {"x": {"datum": 1.86}, "y": {"datum": -347}, "text": {"value": "In"}}},
{"data": {"name": "one"},
 "mark": {"type": "rect", "fill": "white", "stroke": "black", "strokeWidth": 1.3},
 "encoding": {"x": {"datum": 1.889}, "x2": {"datum": 2.102}, "y": {"datum": -13.7}, "y2": {"datum": -59.5}}},
{"data": {"name": "one"},
 "mark": {"type": "text", "align": "center", "baseline": "middle", "fontSize": 25, "font": "Lato", "color": "black"},
 "encoding": {"x": {"datum": 1.996}, "y": {"datum": -36.6}, "text": {"value": "D"}}}
]
}
]
}
